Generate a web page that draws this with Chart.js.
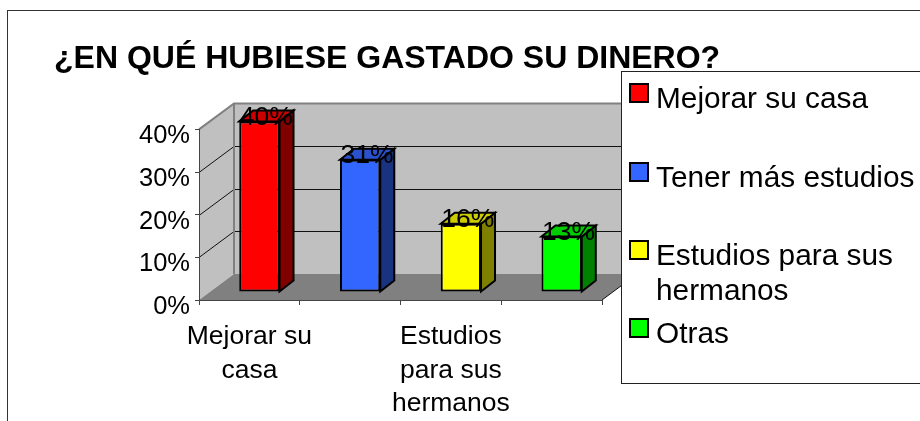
<!DOCTYPE html>
<html><head><meta charset="utf-8">
<style>html,body{margin:0;padding:0;background:#fff}canvas{display:block}</style>
<script src="https://cdn.jsdelivr.net/npm/chart.js@4"></script></head>
<body><canvas id="c" width="920" height="421"></canvas>
<script>
const titleText = "¿EN QUÉ HUBIESE GASTADO SU DINERO?";
const categories = ["Mejorar su casa","Tener más estudios","Estudios para sus hermanos","Otras"];
const values = [40,31,16,13];
const xTickLabels = [["Mejorar su","casa"],"",["Estudios","para sus","hermanos"],""];
const legendLines = [["Mejorar su casa"],["Tener más estudios"],["Estudios para sus","hermanos"],["Otras"]];
const frontColors = ["#FF0000","#3366FF","#FFFF00","#00FF00"];
const topColors = ["#CC0000","#2952CC","#CCCC00","#00CC00"];
const sideColors = ["#800000","#1A3380","#808000","#008000"];
const FONT = '"Liberation Sans", Arial, sans-serif';
const DX = 35, DY = 26;           // wall depth
const BX = 10, BY = 8;            // bar front offset into the floor
const SX = 14, SY = 11;           // bar depth

const scene = {
  id:'scene',
  beforeDraw(chart){
    const c = chart.ctx, a = chart.chartArea, y = chart.scales.y;
    c.save();
    c.fillStyle='#fff'; c.fillRect(0,0,920,421);
    c.strokeStyle='#333'; c.lineWidth=1;
    c.strokeRect(7.5,10.5,1000,1000);
    const L=a.left,R=a.right,T=a.top,B=a.bottom;
    c.fillStyle='#C0C0C0';
    c.fillRect(L+DX,T-DY,R-L,B-T);
    c.beginPath();c.moveTo(L,T);c.lineTo(L+DX,T-DY);c.lineTo(L+DX,B-DY);c.lineTo(L,B);c.closePath();c.fill();
    c.fillStyle='#808080';
    c.beginPath();c.moveTo(L,B);c.lineTo(L+DX,B-DY);c.lineTo(R+DX,B-DY);c.lineTo(R,B);c.closePath();c.fill();
    c.strokeStyle='#111';c.lineWidth=1;
    y.ticks.forEach(t=>{
      if(t.value===0||t.value===y.max) return;
      const p=Math.round(y.getPixelForValue(t.value));
      c.beginPath();c.moveTo(L,p+.5);c.lineTo(L+DX,p-DY+.5);c.lineTo(R+DX,p-DY+.5);c.stroke();
    });
    c.beginPath();c.moveTo(R,B);c.lineTo(R+DX,B-DY);c.stroke();
    c.strokeStyle='#808080';c.lineWidth=2;
    c.beginPath();c.moveTo(L,T);c.lineTo(L+DX,T-DY);c.lineTo(R+DX,T-DY);c.stroke();
    c.beginPath();c.moveTo(L+DX,T-DY);c.lineTo(L+DX,B-DY);c.stroke();
    c.restore();
  },
  beforeDatasetDraw(chart){
    const c = chart.ctx, els = chart.getDatasetMeta(0).data;
    c.save();
    c.translate(BX,BY*-1);
    c.lineWidth=2;c.strokeStyle='#000';c.lineJoin='miter';
    els.forEach((el,i)=>{
      const l=el.x-el.width/2,r=el.x+el.width/2,t=el.y,b=el.base;
      c.fillStyle=sideColors[i];
      c.beginPath();c.moveTo(r,t);c.lineTo(r+SX,t-SY);c.lineTo(r+SX,b-SY);c.lineTo(r,b);c.closePath();c.fill();c.stroke();
      c.fillStyle=topColors[i];
      c.beginPath();c.moveTo(l,t);c.lineTo(l+SX,t-SY);c.lineTo(r+SX,t-SY);c.lineTo(r,t);c.closePath();c.fill();c.stroke();
    });
  },
  afterDatasetDraw(chart){ chart.ctx.restore(); },
  afterDatasetsDraw(chart){
    const c = chart.ctx, els = chart.getDatasetMeta(0).data;
    c.save();
    c.font='26.5px '+FONT;c.fillStyle='#000';c.textAlign='center';c.textBaseline='middle';
    els.forEach((el,i)=>{
      c.fillText(values[i]+'%', el.x+BX+7, el.y-BY-4);
    });
    c.restore();
  },
  afterDraw(chart){
    const c = chart.ctx;
    c.save();
    c.fillStyle='#fff';c.fillRect(621.5,71.5,400,312);
    c.strokeStyle='#222';c.lineWidth=1;c.strokeRect(621.5,71.5,400,312);
    const swY=[84,163,241,319];
    const txtY=[100,179,257,335];
    c.font='29.8px '+FONT;c.textBaseline='middle';c.textAlign='left';
    categories.forEach((n,i)=>{
      c.fillStyle=frontColors[i];c.fillRect(630,swY[i],18,18);
      c.strokeStyle='#000';c.lineWidth=2;c.strokeRect(630,swY[i],18,18);
      c.fillStyle='#000';
      legendLines[i].forEach((ln,j)=>c.fillText(ln,656,txtY[i]+j*35));
    });
    c.restore();
  }
};

new Chart(document.getElementById('c'),{
  type:'bar',
  data:{labels:categories,datasets:[{data:values,backgroundColor:frontColors,borderColor:'#000',borderWidth:2,borderSkipped:false,barPercentage:0.4,categoryPercentage:1}]},
  plugins:[scene],
  options:{
    responsive:false,animation:false,
    layout:{padding:{left:54,right:0,top:0,bottom:0}},
    plugins:{
      legend:{display:false},tooltip:{enabled:false},
      title:{display:true,text:titleText,align:'start',color:'#000',font:{family:FONT,size:32,weight:'bold',lineHeight:1.2},padding:{top:40,bottom:51}}
    },
    scales:{
      y:{min:0,max:40,
        afterFit(s){s.width=145;},
        ticks:{stepSize:10,color:'#000',font:{family:FONT,size:25.5},padding:5,labelOffset:7,callback:v=>v+'%'},
        grid:{drawOnChartArea:false,drawTicks:true,tickLength:4,color:'#444'},
        border:{display:true,color:'#444',width:1}},
      yRight:{position:'right',display:true,min:0,max:40,
        afterFit(s){s.width=318;},
        ticks:{display:false},
        grid:{display:false,drawTicks:false},
        border:{display:false}},
      x:{
        afterFit(s){s.height=121;},
        ticks:{color:'#000',font:{family:FONT,size:26.5,lineHeight:1.27},padding:15,autoSkip:false,maxRotation:0,minRotation:0,
          callback:(v,i)=>xTickLabels[i]},
        grid:{drawOnChartArea:false,drawTicks:true,tickLength:5,color:'#444'},
        border:{display:true,color:'#444',width:1}}
    }
  }
});
</script></body></html>
